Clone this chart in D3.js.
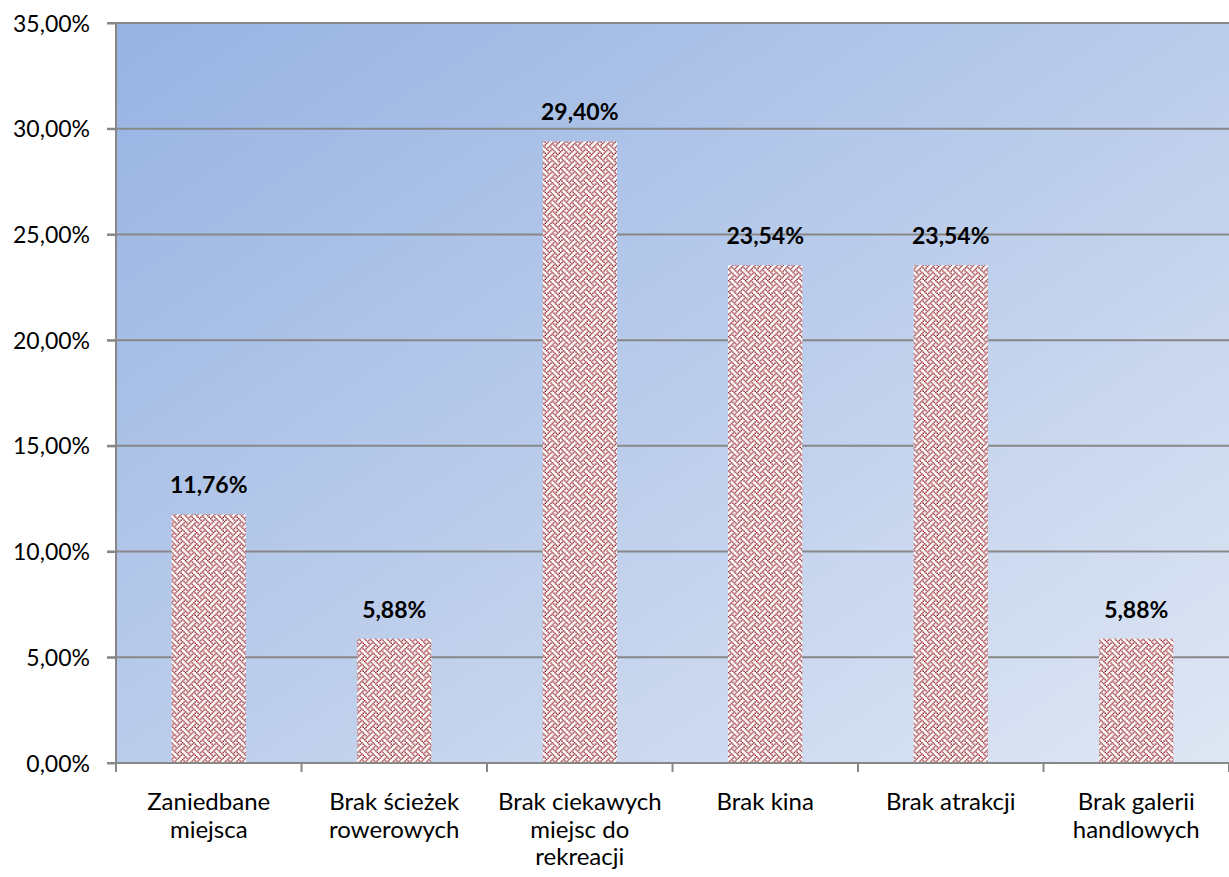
<!DOCTYPE html>
<html>
<head>
<meta charset="utf-8">
<script src="https://d3js.org/d3.v7.min.js"></script>
<style>
  body { margin: 0; background: #fff; }
  text { font-family: Lato, "Open Sans", sans-serif; fill: #000; }
</style>
</head>
<body>
<script>
// data
var categories = [
  ["Zaniedbane", "miejsca"],
  ["Brak ścieżek", "rowerowych"],
  ["Brak ciekawych", "miejsc do", "rekreacji"],
  ["Brak kina"],
  ["Brak atrakcji"],
  ["Brak galerii", "handlowych"]
];
var values = [11.76, 5.88, 29.40, 23.54, 23.54, 5.88];
var yTicks = [0, 5, 10, 15, 20, 25, 30, 35];

var width = 1229, height = 877;
var margin = {top: 23, right: 0, bottom: 114, left: 116};
var fontSize = "23px";

var svg = d3.select("body").append("svg")
  .attr("width", width)
  .attr("height", height);

var defs = svg.append("defs");

// background gradient
var grad = defs.append("linearGradient")
  .attr("id", "bg")
  .attr("x1", "0").attr("y1", "0")
  .attr("x2", "1").attr("y2", "1");
grad.append("stop").attr("offset", "0%").attr("stop-color", "#96b3e2");
grad.append("stop").attr("offset", "100%").attr("stop-color", "#dfe6f4");

// weave pattern for bars
var bits = [
  "10001000",
  "01000101",
  "00100010",
  "01010001",
  "10001000",
  "00010101",
  "00100010",
  "01010100"
];
var cell = 1.4;
var pat = defs.append("pattern")
  .attr("id", "weave")
  .attr("patternUnits", "userSpaceOnUse")
  .attr("width", cell * 8)
  .attr("height", cell * 8);
pat.append("rect").attr("width", cell * 8).attr("height", cell * 8).attr("fill", "#fff");
bits.forEach(function(row, r) {
  row.split("").forEach(function(b, c) {
    if (b === "1") {
      pat.append("rect")
        .attr("x", c * cell).attr("y", r * cell)
        .attr("width", cell).attr("height", cell)
        .attr("fill", "#8e1a22");
    }
  });
});

var x = d3.scaleBand()
  .domain(d3.range(categories.length))
  .range([margin.left, width - margin.right])
  .paddingInner(0.6)
  .paddingOuter(0.3);

var y = d3.scaleLinear()
  .domain([0, 35])
  .range([height - margin.bottom, margin.top]);

// plot area
svg.append("rect")
  .attr("x", margin.left)
  .attr("y", margin.top)
  .attr("width", width - margin.right - margin.left)
  .attr("height", y(0) - margin.top)
  .attr("fill", "url(#bg)");

// gridlines
svg.append("g")
  .selectAll("line")
  .data(yTicks.filter(function(d) { return d > 0; }))
  .enter().append("line")
  .attr("x1", margin.left - 9)
  .attr("x2", width - margin.right)
  .attr("y1", function(d) { return y(d); })
  .attr("y2", function(d) { return y(d); })
  .attr("stroke", "#878787")
  .attr("stroke-width", 2);

// bars
svg.append("g")
  .selectAll("rect")
  .data(values)
  .enter().append("rect")
  .attr("x", function(d, i) { return x(i); })
  .attr("y", function(d) { return y(d); })
  .attr("width", x.bandwidth())
  .attr("height", function(d) { return y(0) - y(d); })
  .attr("fill", "url(#weave)");

// data labels
svg.append("g")
  .selectAll("text")
  .data(values)
  .enter().append("text")
  .attr("x", function(d, i) { return x(i) + x.bandwidth() / 2; })
  .attr("y", function(d) { return y(d) - 21; })
  .attr("text-anchor", "middle")
  .style("font-size", fontSize)
  .style("font-weight", "bold")
  .text(function(d) { return d.toFixed(2).replace(".", ",") + "%"; });

// y axis
var yAxis = d3.axisLeft(y)
  .tickValues(yTicks)
  .tickSize(9)
  .tickPadding(17)
  .tickFormat(function(d) { return d.toFixed(2).replace(".", ",") + "%"; });

var gy = svg.append("g")
  .attr("transform", "translate(" + margin.left + ",0)")
  .call(yAxis);
gy.select(".domain").attr("stroke", "#878787").attr("stroke-width", 2)
  .attr("d", "M0," + y(35) + "V" + y(0));
gy.selectAll(".tick line").attr("stroke", "#878787").attr("stroke-width", 2);
gy.selectAll(".tick text")
  .style("font-size", fontSize)
  .style("font-family", "Lato, 'Open Sans', sans-serif")
  .attr("dy", "0.35em");

// x axis line and ticks at category boundaries
var boundaries = d3.range(categories.length + 1).map(function(i) {
  return margin.left + i * (width - margin.right - margin.left) / categories.length;
});
svg.append("line")
  .attr("x1", margin.left - 9).attr("x2", width - margin.right)
  .attr("y1", y(0)).attr("y2", y(0))
  .attr("stroke", "#878787").attr("stroke-width", 2);
svg.append("g")
  .selectAll("line")
  .data(boundaries)
  .enter().append("line")
  .attr("x1", function(d) { return d; })
  .attr("x2", function(d) { return d; })
  .attr("y1", y(0)).attr("y2", y(0) + 9)
  .attr("stroke", "#878787").attr("stroke-width", 2);

// category labels
var labels = svg.append("g")
  .selectAll("text")
  .data(categories)
  .enter().append("text")
  .attr("text-anchor", "middle")
  .style("font-size", "24px")
  .attr("transform", function(d, i) {
    return "translate(" + (x(i) + x.bandwidth() / 2) + "," + (y(0) + 47) + ")";
  });
labels.selectAll("tspan")
  .data(function(d) { return d; })
  .enter().append("tspan")
  .attr("x", 0)
  .attr("y", function(d, j) { return j * 27.5; })
  .text(function(d) { return d; });
</script>
</body>
</html>
